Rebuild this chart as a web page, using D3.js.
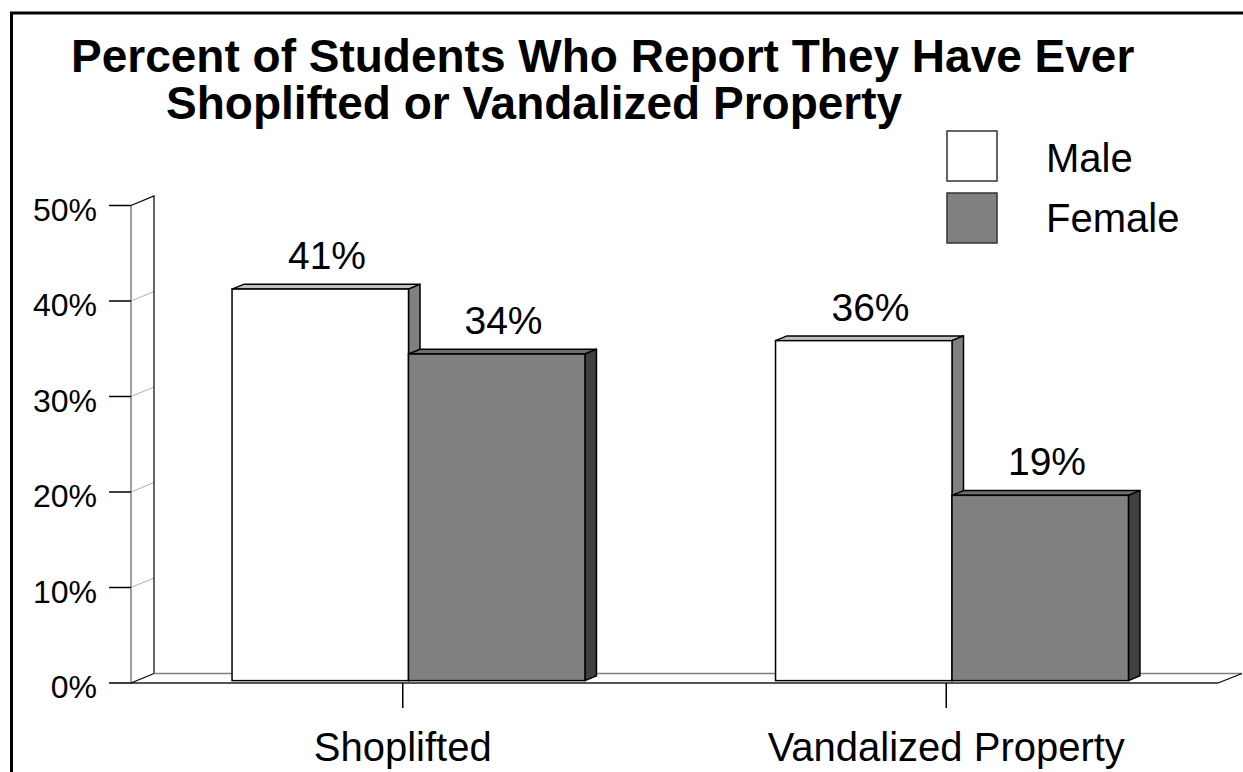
<!DOCTYPE html>
<html>
<head>
<meta charset="utf-8">
<script src="https://cdn.jsdelivr.net/npm/d3@7"></script>
<style>
  html, body { margin: 0; padding: 0; background: #fff; }
  svg { display: block; }
  text { font-family: "Liberation Sans", Arial, sans-serif; fill: #000; }
</style>
</head>
<body>
<svg id="chart" width="1243" height="772"></svg>
<script>
// ---- data ----
const categories = ["Shoplifted", "Vandalized Property"];
const seriesNames = ["Male", "Female"];
const maleValues = [41.0, 35.6];
const femaleValues = [34.2, 19.4];
const yTickValues = [0, 10, 20, 30, 40, 50];
const titleLines = ["Percent of Students Who Report They Have Ever", "Shoplifted or Vandalized Property"];

// ---- layout ----
const svg = d3.select("#chart");
const x0 = 131, x1 = 1218;      // front floor extent
const yBase = 683;              // front floor line
const depthX = 23, depthY = -9.5;  // full depth offset
const barShift = 0.25, barDepth = 0.5; // fractions of depth

const x = d3.scaleBand().domain(categories).range([x0, x1]).padding(0);
const xs = d3.scaleBand().domain(seriesNames).range([0, x.bandwidth()]).paddingInner(0).paddingOuter(0.54);
const y = d3.scaleLinear().domain([0, 50]).range([yBase, 205.5]);

const seriesColors = {
  Male:   { front: "#ffffff", top: "#c0c0c0", side: "#808080" },
  Female: { front: "#808080", top: "#6e6e6e", side: "#404040" }
};
const seriesData = { Male: maleValues, Female: femaleValues };

// frame
svg.append("rect").attr("x", 11.5).attr("y", 13).attr("width", 1400).attr("height", 900)
  .attr("fill", "none").attr("stroke", "#000").attr("stroke-width", 3);

// title
svg.append("text").attr("x", 71).attr("y", 72).attr("font-size", 46).attr("font-weight", "bold").text(titleLines[0]);
svg.append("text").attr("x", 166).attr("y", 119).attr("font-size", 46).attr("font-weight", "bold").text(titleLines[1]);

// wall
const yTop = y(50);
svg.append("path")
  .attr("d", `M${x0},${yBase} L${x0},${yTop} L${x0 + depthX},${yTop + depthY} L${x0 + depthX},${yBase + depthY} Z`)
  .attr("fill", "#fff").attr("stroke", "none");
svg.selectAll("line.grid").data(yTickValues.filter(v => v > 0 && v < 50)).enter().append("line")
  .attr("x1", x0).attr("y1", d => y(d)).attr("x2", x0 + depthX).attr("y2", d => y(d) + depthY)
  .attr("stroke", "#b0b0b0").attr("stroke-width", 1);
svg.append("line").attr("x1", x0).attr("y1", yTop).attr("x2", x0).attr("y2", yBase)
  .attr("stroke", "#808080").attr("stroke-width", 1.5);
svg.append("path")
  .attr("d", `M${x0},${yTop} L${x0 + depthX},${yTop + depthY} L${x0 + depthX},${yBase + depthY}`)
  .attr("fill", "none").attr("stroke", "#000").attr("stroke-width", 1.2);

// floor
svg.append("path")
  .attr("d", `M${x0},${yBase} L${x0 + depthX},${yBase + depthY} L${x1 + depthX + 1},${yBase + depthY} L${x1},${yBase} Z`)
  .attr("fill", "#fff").attr("stroke", "none");
svg.append("line").attr("x1", x0 + depthX).attr("y1", yBase + depthY).attr("x2", x1 + depthX + 1).attr("y2", yBase + depthY)
  .attr("stroke", "#808080").attr("stroke-width", 1.5);
svg.append("line").attr("x1", x0).attr("y1", yBase).attr("x2", x1).attr("y2", yBase)
  .attr("stroke", "#555").attr("stroke-width", 2);
svg.append("line").attr("x1", x0).attr("y1", yBase).attr("x2", x0 + depthX).attr("y2", yBase + depthY)
  .attr("stroke", "#000").attr("stroke-width", 1.2);
svg.append("line").attr("x1", x1).attr("y1", yBase).attr("x2", x1 + depthX + 1).attr("y2", yBase + depthY)
  .attr("stroke", "#000").attr("stroke-width", 1.2);

// y axis ticks + labels
const yAxis = svg.append("g");
yAxis.selectAll("line").data(yTickValues).enter().append("line")
  .attr("x1", 109).attr("x2", x0).attr("y1", d => y(d)).attr("y2", d => y(d))
  .attr("stroke", "#000").attr("stroke-width", 1.5);
yAxis.selectAll("text").data(yTickValues).enter().append("text")
  .attr("x", 97).attr("y", d => y(d) + 15).attr("text-anchor", "end").attr("font-size", 32)
  .text(d => d + "%");

// category ticks + labels
svg.selectAll("line.cat").data(categories).enter().append("line")
  .attr("x1", d => x(d) + x.bandwidth() / 2).attr("x2", d => x(d) + x.bandwidth() / 2)
  .attr("y1", yBase).attr("y2", 708).attr("stroke", "#000").attr("stroke-width", 1.5);
svg.selectAll("text.cat").data(categories).enter().append("text")
  .attr("x", d => x(d) + x.bandwidth() / 2).attr("y", 761).attr("text-anchor", "middle")
  .attr("font-size", 40).text(d => d);

// bars
const sx = depthX * barShift, sy = depthY * barShift;
const bdx = depthX * barDepth, bdy = depthY * barDepth;
const fmt = d3.format(".0f");
categories.forEach((cat, ci) => {
  seriesNames.forEach(s => {
    const v = seriesData[s][ci];
    const left = x(cat) + xs(s) + sx;
    const right = left + xs.bandwidth();
    const top = y(v) + sy;
    const bottom = yBase + sy;
    const c = seriesColors[s];
    const g = svg.append("g");
    g.append("path")
      .attr("d", `M${left},${top} L${left + bdx},${top + bdy} L${right + bdx},${top + bdy} L${right},${top} Z`)
      .attr("fill", c.top).attr("stroke", "#000").attr("stroke-width", 1.5).attr("stroke-linejoin", "round");
    g.append("path")
      .attr("d", `M${right},${top} L${right + bdx},${top + bdy} L${right + bdx},${bottom + bdy} L${right},${bottom} Z`)
      .attr("fill", c.side).attr("stroke", "#000").attr("stroke-width", 1.5).attr("stroke-linejoin", "round");
    g.append("rect")
      .attr("x", left).attr("y", top).attr("width", right - left).attr("height", bottom - top)
      .attr("fill", c.front).attr("stroke", "#000").attr("stroke-width", 1.5);
    svg.append("text")
      .attr("x", (left + right) / 2 + bdx / 2 + 1).attr("y", top - 20)
      .attr("text-anchor", "middle").attr("font-size", 39)
      .text(fmt(v) + "%");
  });
});

// legend
const legend = svg.append("g");
seriesNames.forEach((s, i) => {
  legend.append("rect").attr("x", 947).attr("y", 131 + i * 62).attr("width", 50).attr("height", 50)
    .attr("fill", seriesColors[s].front).attr("stroke", "#333").attr("stroke-width", 1.5);
  legend.append("text").attr("x", 1046).attr("y", 172 + i * 60).attr("font-size", 40).text(s);
});
</script>
</body>
</html>
